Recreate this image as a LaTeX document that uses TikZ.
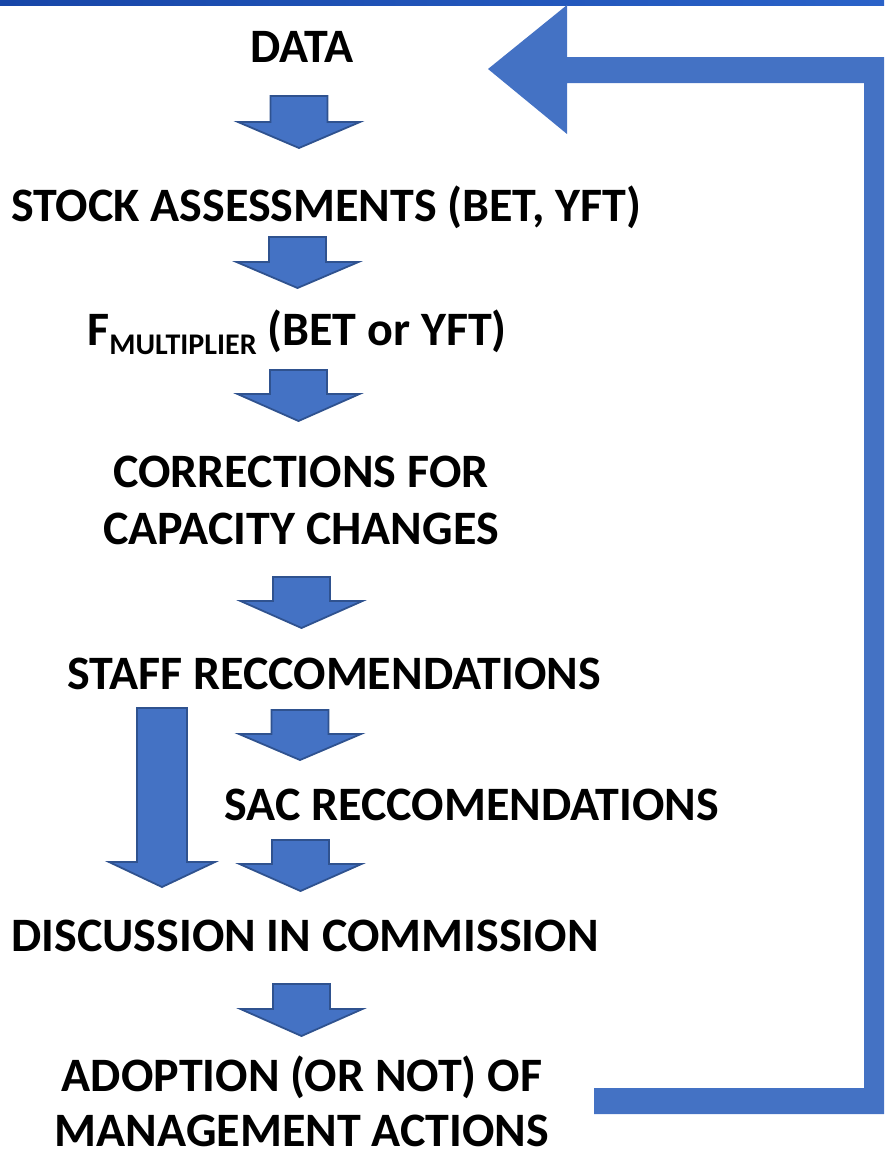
\documentclass[tikz,border=0pt]{standalone}
\usepackage{fontspec}
\setmainfont{Carlito}
\definecolor{accentblue}{HTML}{4472C4}
\definecolor{accentedge}{HTML}{2F528F}
\definecolor{bardark}{HTML}{1746A8}
\definecolor{barlight}{HTML}{2A62C8}
\tikzset{
  steptext/.style={anchor=base, inner sep=0pt, align=center,
    font=\fontsize{24}{28.5}\selectfont\bfseries},
  blockarrow/.style={fill=accentblue, draw=accentedge, line width=0.9pt, line join=miter},
  loopband/.style={fill=accentblue, draw=none},
}
% down arrow: centre x, top, head base, tip, half shaft, half head
\newcommand{\dnarrow}[6]{%
  \draw[blockarrow] (#1-#5,#2) -- (#1+#5,#2) -- (#1+#5,#3) -- (#1+#6,#3)
    -- (#1,#4) -- (#1-#6,#3) -- (#1-#5,#3) -- cycle;}
\begin{document}
\begin{tikzpicture}[x=0.5pt, y=-0.5pt]
  \useasboundingbox (0,0) rectangle (884,1157);
  \clip (0,0) rectangle (884,1157);

  % Drawing top bar
  \shade[left color=bardark, right color=barlight] (0,0) rectangle (884,5);

  % Drawing return loop
  \fill[loopband] (594,1088) -- (864,1088) -- (864,83) -- (567,83) -- (567,134)
    -- (488,69) -- (567,5) -- (567,57) -- (892,57) -- (892,1114)
    -- (594,1114) -- cycle;

  % Steps (base of a two-line step is its last line)
  \node[steptext] (data) at (302,62) {DATA};
  \node[steptext] (stock) at (326,221) {STOCK ASSESSMENTS (BET, YFT)};
  \node[steptext] (fmult) at (297,345)
    {F\raisebox{-4.5pt}{\fontsize{15}{15}\selectfont MULTIPLIER} (BET or YFT)};
  \node[steptext] (corr) at (301,544) {CORRECTIONS FOR\\CAPACITY CHANGES};
  \node[steptext] (staff) at (334,689) {STAFF RECCOMENDATIONS};
  \node[steptext] (sac) at (472,820) {SAC RECCOMENDATIONS};
  \node[steptext] (discuss) at (305,951) {DISCUSSION IN COMMISSION};
  \node[steptext, text depth=0pt] (adopt) at (302,1146)
    {ADOPTION (OR NOT) OF\\[-1pt]MANAGEMENT ACTIONS};

  % Drawing arrows between steps
  \dnarrow{299}{96}{122}{148}{28.5}{61}
  \dnarrow{297.5}{237}{262}{288}{28.5}{61}
  \dnarrow{298.5}{370}{394}{421}{28.5}{61}
  \dnarrow{301.5}{577}{601}{628}{28.5}{61}
  \dnarrow{300}{710}{734}{760}{28.5}{61}
  \dnarrow{300.5}{840}{864}{891}{28.5}{61}
  \dnarrow{301.5}{984}{1009}{1036}{28.5}{61}

  % Drawing staff to commission arrow
  \dnarrow{162}{708}{862}{887}{25}{53}
\end{tikzpicture}
\end{document}
